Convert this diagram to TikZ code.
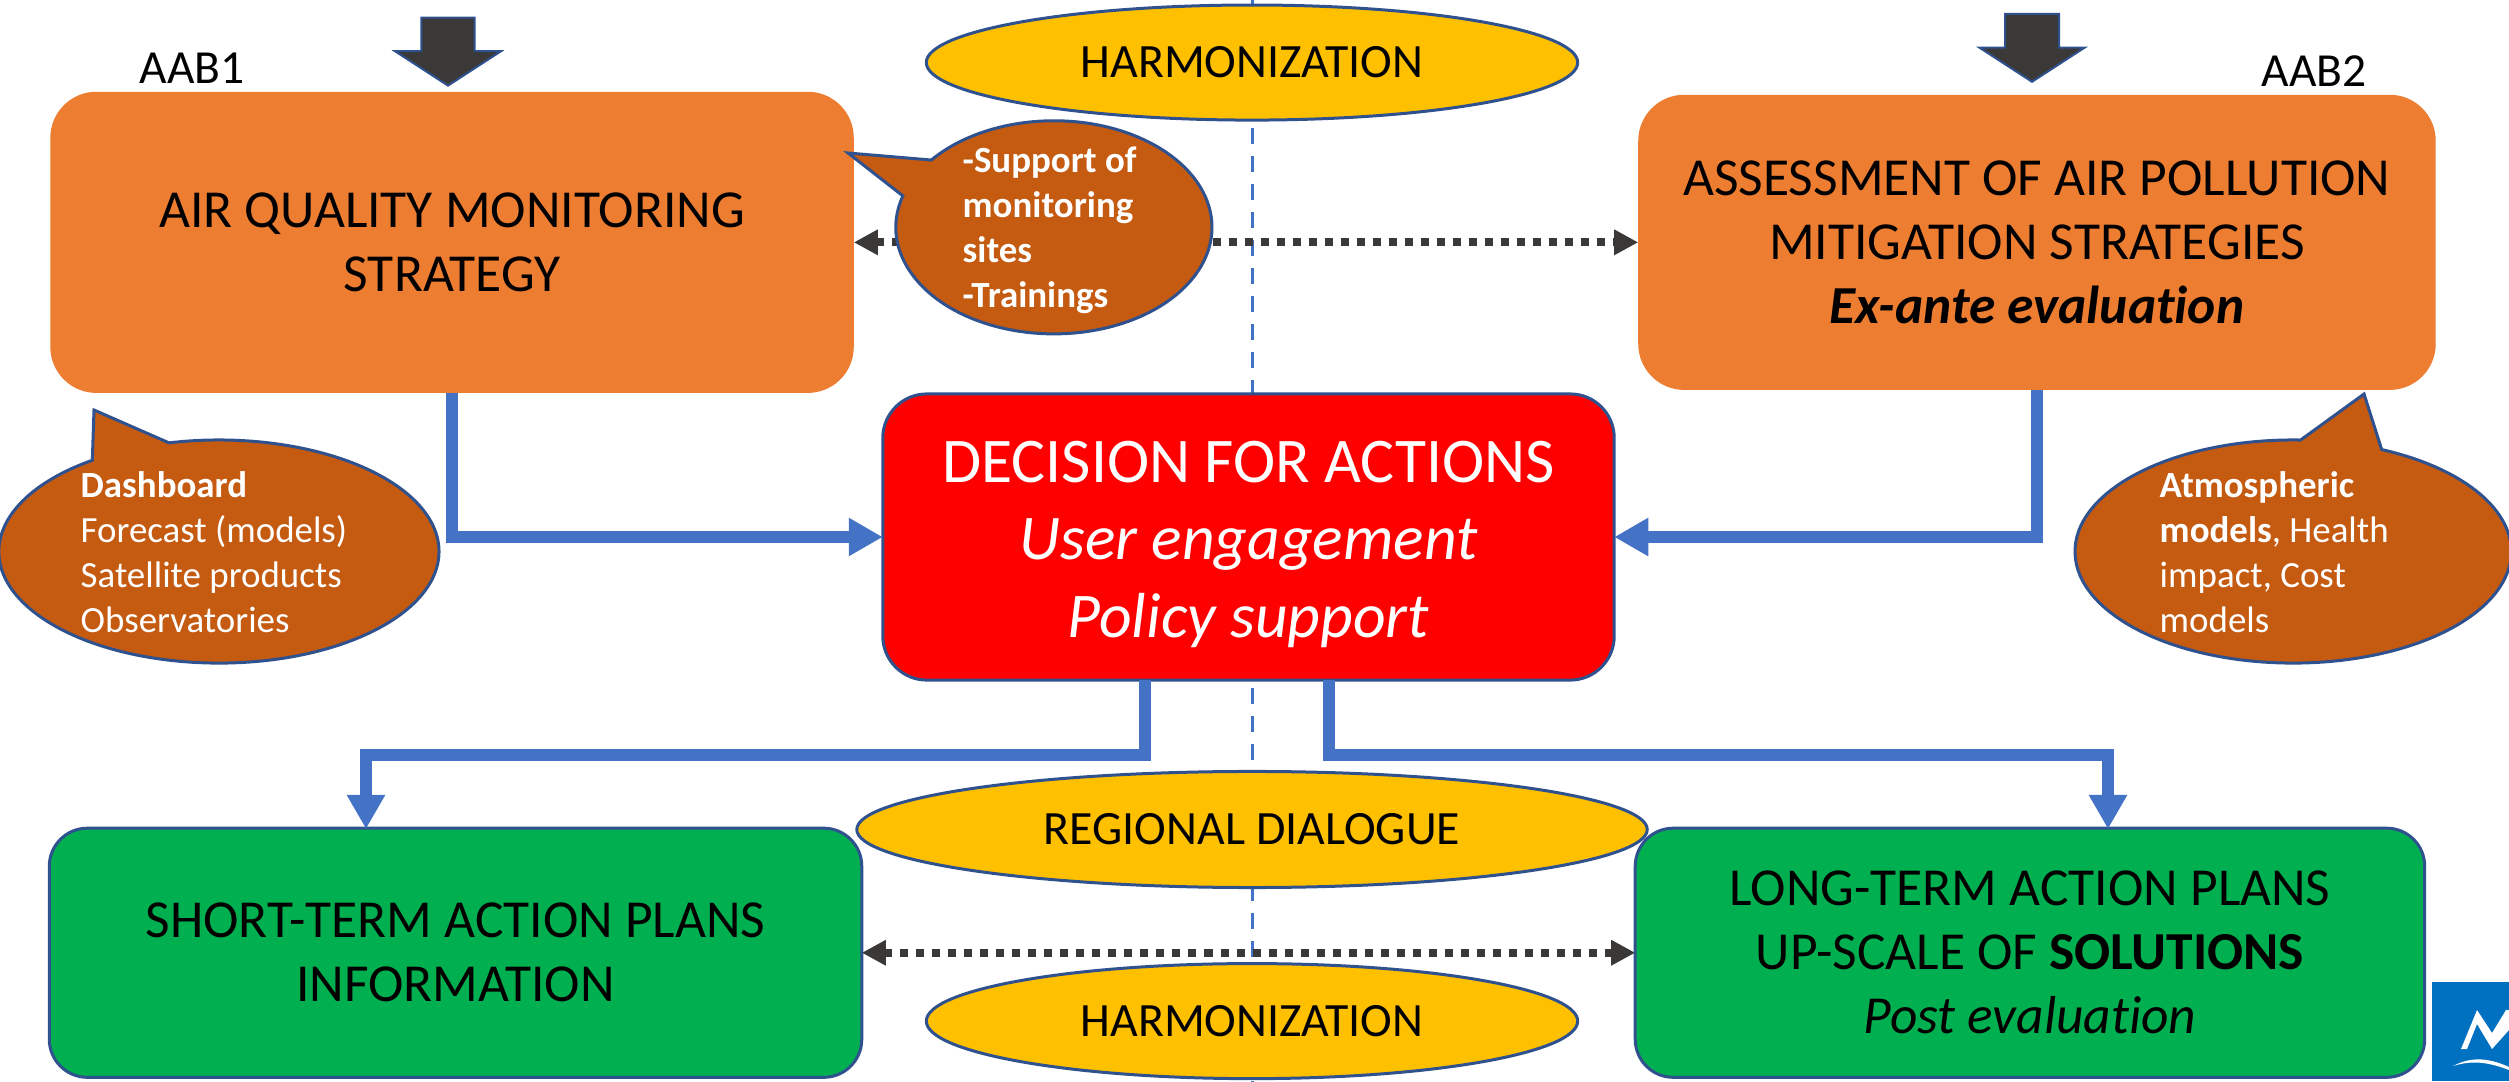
\documentclass[tikz,border=0pt]{standalone}
\usepackage{fontspec}
\setmainfont[Ligatures=NoCommon]{Carlito}
\usetikzlibrary{arrows.meta, positioning, shapes.geometric, shapes.callouts, shapes.arrows}
\definecolor{boxorange}{HTML}{ED7D31}
\definecolor{bubblebrown}{HTML}{C55A11}
\definecolor{ovalgold}{HTML}{FFC000}
\definecolor{planGreen}{HTML}{00B050}
\definecolor{edgeblue}{HTML}{2F528F}
\definecolor{flowblue}{HTML}{4472C4}
\definecolor{darkgrey}{HTML}{3B3838}
\definecolor{logoblue}{HTML}{0070C0}

\begin{document}
\begin{tikzpicture}[
    x=0.01cm, y=-0.01cm,
    box/.style = {rectangle, outer sep=0pt, align=center, text=black, font=\fontsize{15.2}{18.2}\selectfont},
    strategy/.style = {box, fill=boxorange, rounded corners=0.46cm},
    plan/.style = {box, fill=planGreen, draw=edgeblue, line width=0.03cm, rounded corners=0.38cm},
    decision/.style = {box, fill=red, draw=edgeblue, line width=0.03cm, rounded corners=0.44cm, text=white, font=\fontsize{18.1}{22}\selectfont},
    oval/.style = {ellipse, fill=ovalgold, draw=edgeblue, line width=0.03cm, inner sep=0pt, outer sep=0pt, font=\fontsize{13.6}{16}\selectfont},
    bubble/.style = {ellipse callout, fill=bubblebrown, draw=edgeblue, line width=0.03cm, inner sep=0pt, outer sep=0pt, callout pointer arc=22},
    bubbletext/.style = {anchor=west, align=left, inner sep=0pt, text=white, font=\fontsize{10.5}{12.8}\selectfont},
    tag/.style = {inner sep=0pt, font=\fontsize{13.5}{16}\selectfont},
    input/.style = {single arrow, shape border rotate=270, fill=darkgrey, draw=edgeblue, line width=0.02cm, inner sep=0pt, minimum height=0.68cm, single arrow tip angle=114, single arrow head indent=0pt},
    flow/.style = {-{Triangle[length=0.34cm, width=0.36cm]}, draw=flowblue, line width=0.12cm},
    exchange/.style = {{Triangle[length=0.24cm, width=0.24cm]}-{Triangle[length=0.24cm, width=0.24cm]}, draw=darkgrey, line width=0.08cm, dash pattern=on 0.08cm off 0.08cm},
    axis/.style = {draw=flowblue, line width=0.03cm, dash pattern=on 0.16cm off 0.12cm, dash phase=0.12cm}
]
\useasboundingbox (0,0) rectangle (2509,1081);

% =========================================================
% CENTRE LINE (behind everything)
% =========================================================
\coordinate (axisTop) at (1252,0);
\coordinate (axisBottom) at (1252,1081);
\draw[axis] (axisTop) -- (axisBottom);

% =========================================================
% MAIN BOXES
% =========================================================
\node[decision, minimum width=7.31cm, minimum height=2.86cm] (dec) at (1248.5,537) {\rule{0pt}{0.56cm}DECISION FOR ACTIONS\\\textit{User engagement}\\\textit{Policy support}};
\node[strategy, minimum width=8.03cm, minimum height=3.01cm, above left=0.01cm and 0.29cm of dec] (mon) {AIR QUALITY MONITORING\\STRATEGY};
\node[strategy, minimum width=7.97cm, minimum height=2.95cm, above right=0.04cm and 0.24cm of dec] (mit) {ASSESSMENT OF AIR POLLUTION\\MITIGATION STRATEGIES\\\textbf{\textit{Ex-ante evaluation}}};
\node[plan, minimum width=8.12cm, minimum height=2.49cm, below left=1.48cm and 0.21cm of dec] (short) {SHORT-TERM ACTION PLANS\\INFORMATION};
\node[plan, minimum width=7.89cm, minimum height=2.49cm, below right=1.48cm and 0.21cm of dec] (long) {LONG-TERM ACTION PLANS\\UP-SCALE OF \textbf{SOLUTIONS}\\\textit{Post evaluation}};

% =========================================================
% OVALS ON THE CENTRE LINE
% =========================================================
\node[oval, minimum width=6.51cm, minimum height=1.15cm, below=0.05cm of axisTop] (harmTop) {HARMONIZATION};
\node[oval, minimum width=7.90cm, minimum height=1.16cm, below=7.71cm of axisTop] (regional) {REGIONAL DIALOGUE};
\node[oval, minimum width=6.51cm, minimum height=1.15cm, below=0.76cm of regional] (harmBottom) {HARMONIZATION};

% =========================================================
% INPUT ARROWS AND TAGS
% =========================================================
\node[input, minimum width=1.06cm, single arrow head extend=0.265cm] (inLeft) at (448,43) {\rule{0.51cm}{0pt}};
\node[input, minimum width=1.05cm, single arrow head extend=0.255cm] (inRight) at (2032,39) {\rule{0.52cm}{0pt}};
\node[tag] (tagLeft) at (192,68) {AAB1};
\node[tag] (tagRight) at (2314,71) {AAB2};

% =========================================================
% WIRING: FLOWS AND EXCHANGES
% =========================================================
\coordinate (decOutL) at (1145,680);
\coordinate (decOutR) at (1329,680);
\coordinate (shortIn) at (366,829);
\coordinate (longIn) at (2108,829);
\draw[flow] (mon.south) |- (dec.west);
\draw[flow] (mit.south) |- (dec.east);
\draw[flow] (decOutL) -- ++(0,75) -| (shortIn);
\draw[flow] (decOutR) -- ++(0,75) -| (longIn);
\draw[exchange] (mon.east) -- (mit.west);
\draw[exchange] (short.east) -- (long.west);

% =========================================================
% BUBBLES
% =========================================================
\node[bubble, minimum width=3.16cm, minimum height=2.13cm, right=0.42cm of mon, yshift=0.15cm, callout absolute pointer={(848,153)}] (support) {};
\node[bubble, minimum width=4.40cm, minimum height=2.23cm, below=0.47cm of mon, xshift=-2.33cm, callout absolute pointer={(94,410)}] (dash) {};
\node[bubble, minimum width=4.36cm, minimum height=2.23cm, below=0.50cm of mit, xshift=2.56cm, callout absolute pointer={(2364,394)}] (models) {};
\node[bubbletext] (supportText) at (962,230) {\textbf{-Support of}\\\textbf{monitoring}\\\textbf{sites}\\\textbf{-Trainings}};
\node[bubbletext] (dashText) at (80,552) {\textbf{Dashboard}\\Forecast (models)\\Satellite products\\Observatories};
\node[bubbletext] (modelsText) at (2159,552) {\textbf{Atmospheric}\\\textbf{models},\ Health\\impact, Cost\\models};

% =========================================================
% LOGO
% =========================================================
\fill[logoblue] (2432,982) rectangle (2509,1081);
\fill[white] (2461,1049) -- (2477,1010) -- (2492,1033) -- (2506,1010) -- (2509,1010) -- (2509,1030) -- (2492,1049) -- (2477,1024) -- (2467,1049) -- cycle;
\fill[white] (2453,1066) .. controls (2468,1058) and (2485,1056) .. (2509,1067) -- (2509,1070) .. controls (2488,1062) and (2472,1060) .. (2453,1066);

\end{tikzpicture}
\end{document}
